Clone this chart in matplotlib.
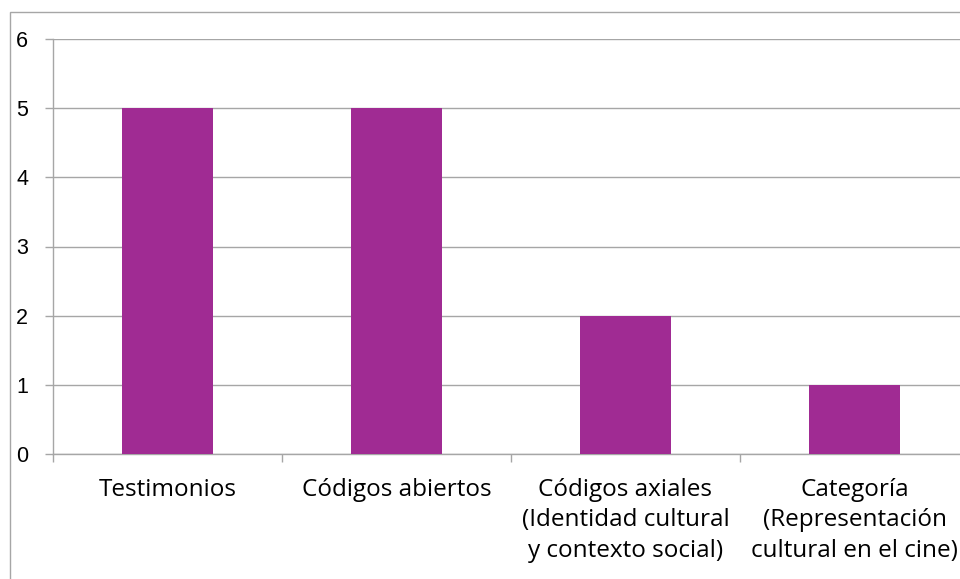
import matplotlib
matplotlib.use("Agg")
import matplotlib.pyplot as plt
from matplotlib.patches import Rectangle

categorias = ["Testimonios", "Códigos abiertos",
              "Códigos axiales\n(Identidad cultural\ny contexto social)",
              "Categoría\n(Representación\ncultural en el cine)"]
valores = [5, 5, 2, 1]
y_ticks = [0, 1, 2, 3, 4, 5, 6]

W, H = 960, 579
fig = plt.figure(figsize=(W / 100, H / 100), dpi=100)
plt.rcParams['font.family'] = ['Open Sans', 'DejaVu Sans']

# plot area in pixels: x 53..969 (cut off by the picture), y 39..454
ax = fig.add_axes([53 / W, (H - 454) / H, 916 / W, 415 / H])
ax.bar(range(len(valores)), valores, width=0.4, color='#A02B93', zorder=3)
ax.set_xlim(-0.5, len(valores) - 0.5)
ax.set_ylim(0, 6)

ax.set_yticks(y_ticks)
ax.set_yticklabels([str(v) for v in y_ticks], family=['Liberation Sans'], fontsize=15.5)
ax.yaxis.grid(True, color='#A6A6A6', linewidth=1, zorder=0)
ax.tick_params(axis='y', length=5.8, color='#A6A6A6', width=1, pad=12)

# category ticks sit on the boundaries, labels centred on the bars
ax.set_xticks([i - 0.5 for i in range(len(valores) + 1)])
ax.set_xticklabels([])
ax.set_xticks(range(len(valores)), minor=True)
ax.set_xticklabels(categorias, minor=True, fontsize=17.5, linespacing=1.36,
                   va='top')
ax.tick_params(axis='x', which='minor', length=0, pad=17)
ax.tick_params(axis='x', which='major', length=5.8, color='#A6A6A6', width=1)

for s in ['top', 'right']:
    ax.spines[s].set_visible(False)
for s in ['left', 'bottom']:
    ax.spines[s].set_color('#A6A6A6')
    ax.spines[s].set_linewidth(1)

# outer chart border (only left and top visible)
fig.patches.append(Rectangle((10 / W, -0.05), 1.0, (H - 12) / H + 0.05,
                             transform=fig.transFigure, fill=False,
                             edgecolor='#A6A6A6', linewidth=1))

fig.savefig("out.png", dpi=100)
